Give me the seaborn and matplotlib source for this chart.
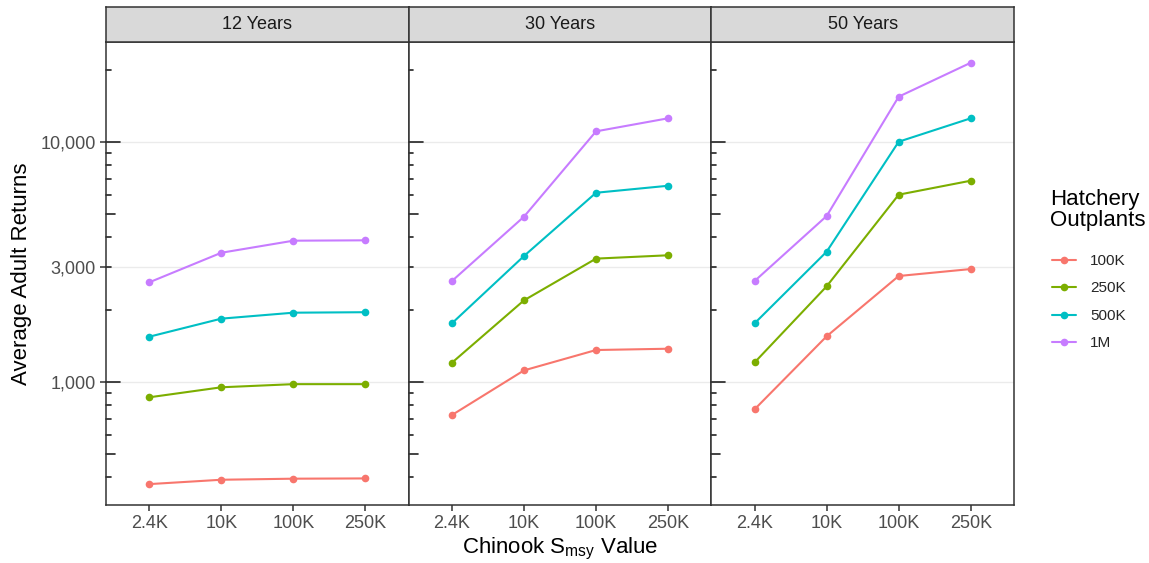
import numpy as np
import pandas as pd
import matplotlib
matplotlib.use("Agg")
import matplotlib.pyplot as plt
from matplotlib.lines import Line2D
import seaborn as sns

# ---------------- data ----------------
periods = ["12 Years", "30 Years", "50 Years"]
smsy_labels = ["2.4K", "10K", "100K", "250K"]
outplant_levels = ["100K", "250K", "500K", "1M"]

y12_100k = [374, 390, 394, 395]
y12_250k = [861, 948, 977, 977]
y12_500k = [1541, 1833, 1941, 1950]
y12_1m = [2598, 3452, 3876, 3890]

y30_100k = [726, 1115, 1356, 1373]
y30_250k = [1200, 2185, 3263, 3369]
y30_500k = [1752, 3345, 6143, 6570]
y30_1m = [2630, 4881, 11080, 12560]

y50_100k = [767, 1547, 2761, 2952]
y50_250k = [1203, 2500, 6031, 6897]
y50_500k = [1752, 3487, 10030, 12560]
y50_1m = [2630, 4912, 15460, 21420]

y_breaks = [1000, 3000, 10000]
y_break_labels = ["1,000", "3,000", "10,000"]
palette = ["#F8766D", "#7CAE00", "#00BFC4", "#C77CFF"]

series = {
    "12 Years": [y12_100k, y12_250k, y12_500k, y12_1m],
    "30 Years": [y30_100k, y30_250k, y30_500k, y30_1m],
    "50 Years": [y50_100k, y50_250k, y50_500k, y50_1m],
}
rows = []
for p in periods:
    for lvl, vals in zip(outplant_levels, series[p]):
        for s, v in zip(smsy_labels, vals):
            rows.append({"period": p, "smsy": s, "outplants": lvl, "returns": v})
df = pd.DataFrame(rows)

# ---------------- style ----------------
sns.set_theme(style="white")
plt.rcParams["font.family"] = ["Liberation Sans", "DejaVu Sans"]
plt.rcParams["mathtext.fontset"] = "custom"
plt.rcParams["mathtext.rm"] = "Liberation Sans"
plt.rcParams["mathtext.it"] = "Liberation Sans:italic"

W, H = 1149, 563
fig = plt.figure(figsize=(W / 100, H / 100), dpi=100)

def fx(px):
    return px / W

def fy(py):
    return 1 - py / H

left_px, right_px = 106, 1014
top_px, bot_px, strip_top = 42, 505, 7
pw = (right_px - left_px) / 3
ymin, ymax = 306, 26140
border = "#333333"

axes = []
for i, p in enumerate(periods):
    x0 = left_px + i * pw
    ax = fig.add_axes([fx(x0), fy(bot_px), fx(pw), (bot_px - top_px) / H])
    axes.append(ax)
    sub = df[df["period"] == p]
    sns.lineplot(data=sub, x="smsy", y="returns", hue="outplants",
                 hue_order=outplant_levels, palette=palette, marker="o",
                 markersize=5.5, markeredgewidth=0, linewidth=1.5,
                 ax=ax, legend=False, zorder=3)
    ax.set_yscale("log")
    ax.set_ylim(ymin, ymax)
    ax.set_xlim(-0.6, 3.6)
    ax.set_xlabel("")
    ax.set_ylabel("")
    ax.yaxis.set_minor_locator(matplotlib.ticker.NullLocator())
    ax.set_yticks(y_breaks)
    for yb in y_breaks:
        ax.axhline(yb, color="#EBEBEB", lw=1.0, zorder=0)
    if i == 0:
        ax.set_yticklabels(y_break_labels)
        ax.tick_params(axis="y", which="major", direction="out", length=4,
                       width=1.1, color="#333333", labelsize=13,
                       labelcolor="#4D4D4D", pad=3.5, left=True)
    else:
        ax.tick_params(axis="y", which="major", left=False, labelleft=False)
    ax.tick_params(axis="x", which="major", direction="out", length=4,
                   width=1.1, color="#333333", labelsize=13,
                   labelcolor="#4D4D4D", pad=3, bottom=True)
    for sp in ax.spines.values():
        sp.set_color(border)
        sp.set_linewidth(1.1)
        sp.set_zorder(5)
    # annotation_logticks on left side
    tr = ax.get_yaxis_transform()
    for dec in [100, 1000, 10000]:
        for m in range(1, 10):
            v = dec * m
            if v < ymin or v > ymax:
                continue
            if m == 1:
                L = 14
            elif m == 5:
                L = 9
            else:
                L = 4.7
            ax.add_line(Line2D([0, L / pw], [v, v], transform=tr,
                               color="#222222", lw=1.2, zorder=4,
                               clip_on=False))
    # strip
    sax = fig.add_axes([fx(x0), fy(top_px), fx(pw), (top_px - strip_top) / H])
    sax.set_facecolor("#D9D9D9")
    sax.set_xticks([])
    sax.set_yticks([])
    for sp in sax.spines.values():
        sp.set_color(border)
        sp.set_linewidth(1.1)
    sax.text(0.5, 0.5, p, ha="center", va="center", fontsize=13,
             color="#1A1A1A", transform=sax.transAxes)

# axis titles
fig.text(fx((left_px + right_px) / 2), fy(549), r"Chinook S$_{\mathrm{msy}}$ Value",
         ha="center", va="center", fontsize=16, color="black")
fig.text(fx(22), fy((top_px + bot_px) / 2), "Average Adult Returns",
         ha="center", va="center", rotation=90, fontsize=16, color="black")

# legend
fig.text(fx(1050), fy(210), "Hatchery\nOutplants", ha="left", va="center",
         fontsize=16, color="black", linespacing=1.05)
handles = [Line2D([0], [0], color=c, lw=1.5, marker="o", markersize=5.5,
                  markeredgewidth=0) for c in palette]
leg = fig.legend(handles, outplant_levels,
                 loc="upper left", bbox_to_anchor=(fx(1052), fy(254)),
                 frameon=False, fontsize=11, borderpad=0, borderaxespad=0,
                 handlelength=1.55, handletextpad=0.95, labelspacing=0.88)

fig.savefig("out.png", dpi=100, facecolor="white")
